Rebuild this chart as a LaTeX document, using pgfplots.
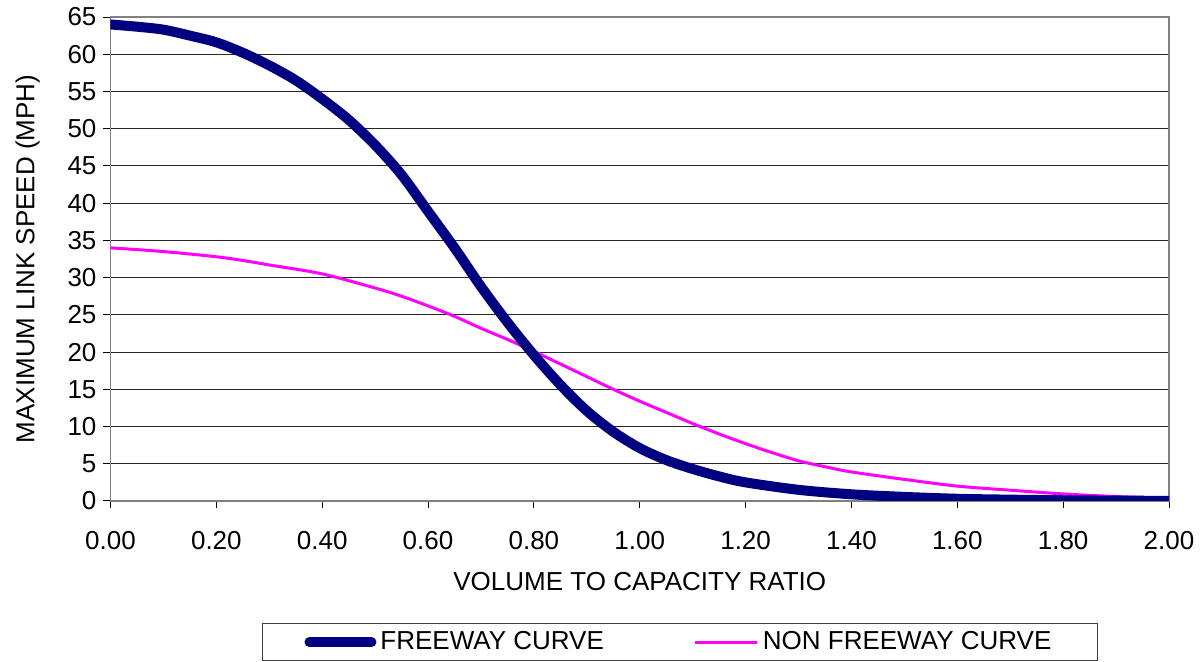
\documentclass[border=0pt]{standalone}
\usepackage{pgfplots}
\pgfplotsset{compat=1.18}
\usepackage{fontspec}
\setmainfont{Liberation Sans}
\definecolor{fwy}{HTML}{000080}
\definecolor{nfwy}{HTML}{FF00FF}
\begin{document}
\begin{tikzpicture}
\begin{axis}[
  name=ax,
  scale only axis,
  width=529.25pt, height=242pt,
  xmin=0, xmax=2, ymin=0, ymax=65,
  xtick={0,0.2,...,2.01},
  ytick={0,5,...,65},
  /pgf/number format/assume math mode=true,
  tick label style={font=\fontsize{13}{15}\selectfont},
  xticklabel style={yshift=-8pt, /pgf/number format/.cd, fixed, fixed zerofill, precision=2},
  label style={font=\fontsize{13}{15}\selectfont},
  xlabel={VOLUME TO CAPACITY RATIO},
  ylabel={MAXIMUM LINK SPEED (MPH)},
  xlabel style={yshift=-4.5pt},
  ylabel style={yshift=7pt},
  ymajorgrids,
  grid style={black!85, line width=0.5pt},
  axis line style={draw=black!50, line width=0.9pt},
  tick style={black, line width=0.5pt},
  tick align=outside,
  major tick length=3.5pt,
  xtick pos=bottom, ytick pos=left,
  legend columns=2,
  legend style={at={(0.143,-0.252)}, anchor=north west, draw=black!75, line width=0.6pt,
    inner xsep=21pt, inner ysep=2pt, font=\fontsize{13}{15}\selectfont,
    /tikz/every even column/.append style={column sep=43pt}},
  legend cell align=left,
  legend image code/.code={\draw[#1] (0pt,0pt) -- (31pt,0pt);},
]
\addplot[color=nfwy, line width=1.5pt, smooth, forget plot] coordinates {
(0,34.0) (0.1,33.5) (0.2,32.8) (0.25,32.3) (0.3,31.7) (0.4,30.5) (0.5,28.6)
(0.55,27.5) (0.6,26.2) (0.65,24.8) (0.7,23.2) (0.75,21.7) (0.8,20.1) (0.85,18.4)
(0.9,16.7) (0.95,15.0) (1.0,13.4) (1.05,11.9) (1.1,10.4) (1.15,9.0) (1.2,7.7)
(1.25,6.5) (1.3,5.4) (1.35,4.6) (1.4,3.9) (1.5,2.9) (1.6,2.0) (1.7,1.45)
(1.8,0.95) (1.9,0.6) (2.0,0.35)
};
\addplot[color=fwy, line width=5pt, line cap=round, line join=round, smooth] coordinates {
(0,64.0) (0.05,63.7) (0.1,63.3) (0.15,62.5) (0.2,61.6) (0.25,60.2) (0.3,58.5)
(0.35,56.5) (0.4,54.0) (0.45,51.2) (0.5,47.8) (0.55,43.8) (0.6,38.9) (0.65,34.0)
(0.7,28.8) (0.75,24.0) (0.8,19.6) (0.85,15.6) (0.9,12.1) (0.95,9.3) (1.0,7.1)
(1.05,5.5) (1.1,4.3) (1.15,3.3) (1.2,2.5) (1.3,1.5) (1.4,0.9) (1.5,0.55)
(1.6,0.3) (1.7,0.18) (1.8,0.1) (1.9,0.05) (2.0,0.02)
};
\addlegendentry{FREEWAY CURVE}
\addlegendimage{color=nfwy, line width=1.5pt}
\addlegendentry{NON FREEWAY CURVE}
\end{axis}
\pgfresetboundingbox
\path ([shift={(-55.25pt,-80.5pt)}]ax.south west) rectangle ([shift={(17.5pt,8.5pt)}]ax.north east);
\end{tikzpicture}
\end{document}
